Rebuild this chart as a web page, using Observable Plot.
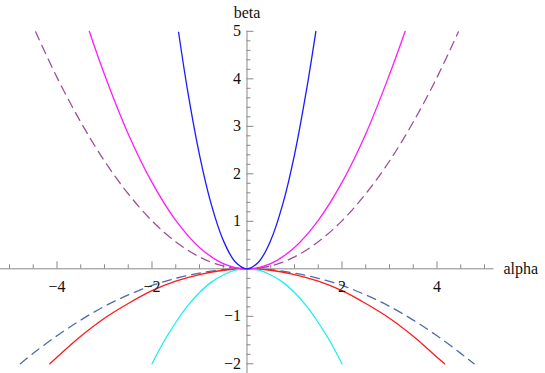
<!DOCTYPE html>
<html><head><meta charset="utf-8">
<script src="https://cdn.jsdelivr.net/npm/d3@7"></script>
<script src="https://cdn.jsdelivr.net/npm/@observablehq/plot@0.6"></script>
<style>body{margin:0;background:#fff} svg text{font-family:"Liberation Serif","Times New Roman",serif !important;}</style>
</head><body><div id="chart"></div>
<script>
// Series (alpha, beta)
const blueA = [-1.44,-1.25,-1,-0.75,-0.5,-0.25,0,0.25,0.5,0.75,1,1.25,1.45];
const blueB = [4.98,3.75,2.4,1.35,0.6,0.15,0,0.15,0.6,1.35,2.4,3.75,5.0];
const magentaA = [-3.32,-3,-2.5,-2,-1.5,-1,-0.5,0,0.5,1,1.5,2,2.5,3,3.33];
const magentaB = [5.0,4.09,2.84,1.82,1.02,0.45,0.11,0,0.11,0.45,1.02,1.82,2.84,4.09,5.0];
const purpleA = [-4.45,-4,-3.5,-3,-2.5,-2,-1.5,-1,-0.5,0,0.5,1,1.5,2,2.5,3,3.5,4,4.45];
const purpleB = [4.99,4.03,3.09,2.27,1.58,1.01,0.57,0.25,0.06,0,0.06,0.25,0.57,1.01,1.58,2.27,3.09,4.03,4.99];
const redA = [-4.15,-4,-3.5,-3,-2.5,-2,-1.5,-1,-0.5,0,0.5,1,1.5,2,2.5,3,3.5,4,4.16];
const redB = [-2.0,-1.86,-1.42,-1.04,-0.73,-0.46,-0.26,-0.12,-0.03,0,-0.03,-0.12,-0.26,-0.46,-0.73,-1.04,-1.42,-1.86,-2.0];
const cyanA = [-2,-1.75,-1.5,-1.25,-1,-0.75,-0.5,-0.25,0,0.25,0.5,0.75,1,1.25,1.5,1.75,2];
const cyanB = [-2,-1.53,-1.13,-0.78,-0.5,-0.28,-0.13,-0.03,0,-0.03,-0.13,-0.28,-0.5,-0.78,-1.13,-1.53,-2];
const slateA = [-4.77,-4.5,-4,-3.5,-3,-2.5,-2,-1.5,-1,-0.5,0,0.5,1,1.5,2,2.5,3,3.5,4,4.5,4.78];
const slateB = [-2.0,-1.78,-1.41,-1.08,-0.79,-0.55,-0.35,-0.2,-0.09,-0.02,0,-0.02,-0.09,-0.2,-0.35,-0.55,-0.79,-1.08,-1.41,-1.78,-2.0];

const xTickLabels = [-4,-2,2,4];
const yTickLabels = [-2,-1,1,2,3,4,5];
const xMinor = d3.range(-5, 5.01, 0.5);
const yMinor = d3.range(-2, 5.01, 0.2);

const toPts = (a,b) => a.map((x,i)=>({x, y:b[i]}));
const W = 545, H = 373;
const xDom = [-5.189, 6.284], yDom = [-2.204, 5.649];
const pxX = W/(xDom[1]-xDom[0]), pxY = H/(yDom[1]-yDom[0]);
const fmt = d => (d<0 ? "\u2212" + Math.abs(d) : String(d));
const axisColor = "#888";
const font = "'Liberation Serif', 'Times New Roman', serif";

const isMajor = (v) => Math.abs(v - Math.round(v)) < 1e-6;

const series = [
  {pts: toPts(slateA, slateB), stroke: "#4f6ba8", dash: "9,6"},
  {pts: toPts(purpleA, purpleB), stroke: "#9e4f9a", dash: "9,6"},
  {pts: toPts(redA, redB), stroke: "#ff1a1a"},
  {pts: toPts(cyanA, cyanB), stroke: "#19f0f0"},
  {pts: toPts(magentaA, magentaB), stroke: "#ff1aff"},
  {pts: toPts(blueA, blueB), stroke: "#1a1aff"},
];

const marks = [
  Plot.ruleY([0], {x1: -5.19, x2: 5.2, stroke: axisColor, strokeWidth: 1}),
  Plot.ruleX([0], {y1: yDom[0], y2: 5, stroke: axisColor, strokeWidth: 1}),
  Plot.ruleX(xMinor.filter(v=>Math.abs(v)>1e-6), {x: d=>d, y1: 0, y2: d => (Math.abs(d%2)<1e-6 ? 7 : 4)/pxY, stroke: axisColor}),
  Plot.ruleY(yMinor.filter(v=>Math.abs(v)>1e-6), {y: d=>d, x1: 0, x2: d => (isMajor(d) ? 7 : 4)/pxX, stroke: axisColor}),
  ...series.map(s => Plot.line(s.pts, {x: "x", y: "y", stroke: s.stroke, strokeWidth: 1.3, curve: "catmull-rom", strokeDasharray: s.dash})),
  Plot.text(xTickLabels, {x: d=>d, y: 0, dy: 18, text: fmt, fontSize: 16, fontFamily: font, fill: "#111"}),
  Plot.text(yTickLabels, {x: 0, y: d=>d, dx: -6, text: fmt, textAnchor: "end", fontSize: 16, fontFamily: font, fill: "#111"}),
  Plot.text(["alpha"], {x: 5.4, y: 0, text: d=>d, textAnchor: "start", fontSize: 16, fontFamily: font, fill: "#111"}),
  Plot.text(["beta"], {x: 0, y: 5.39, text: d=>d, fontSize: 16, fontFamily: font, fill: "#111"}),
];

const chart = Plot.plot({
  width: W, height: H,
  margin: 0,
  style: {fontFamily: font},
  x: {domain: xDom, axis: null},
  y: {domain: yDom, axis: null},
  marks
});
document.getElementById("chart").appendChild(chart);
</script>
</body></html>
